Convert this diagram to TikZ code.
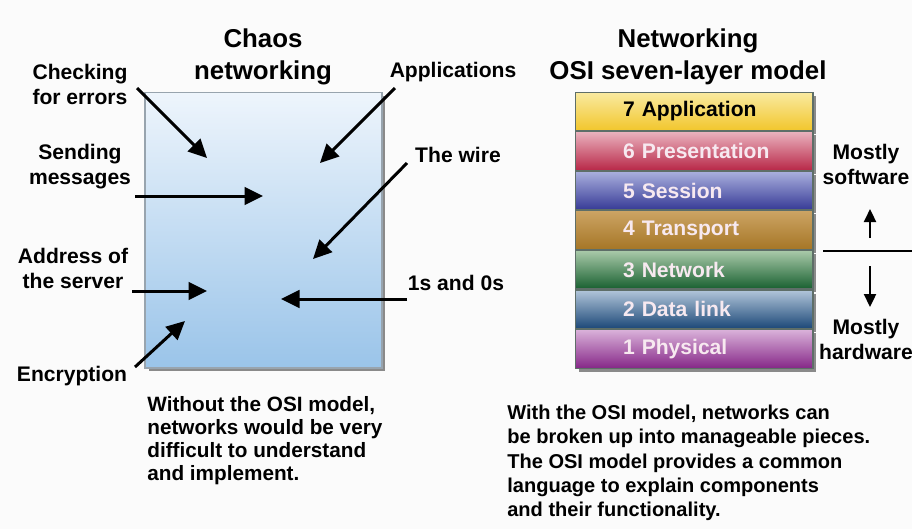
\documentclass[tikz,border=0pt]{standalone}
\usepackage{fontspec}
\setmainfont{Liberation Sans}
\usetikzlibrary{positioning,arrows.meta,shadows}
\definecolor{bgcol}{HTML}{FBFBFB}
\definecolor{boxtop}{HTML}{EEF5FC}
\definecolor{boxbot}{HTML}{9AC4E9}
\definecolor{boxline}{HTML}{98A4AE}
\definecolor{laygrey}{HTML}{5E6E68}
\definecolor{laytext}{HTML}{F7E9F0}
\tikzset{title/.style={font=\bfseries\fontsize{14.7}{18.2}\selectfont,align=center,inner sep=0pt}}
\tikzset{lbl/.style={font=\bfseries\fontsize{12}{14.2}\selectfont,align=center,inner sep=0pt}}
\tikzset{note/.style={font=\bfseries\fontsize{11.8}{13.2}\selectfont,align=left,inner sep=0pt,anchor=north west}}
\tikzset{layer/.style={draw=laygrey,line width=0.6pt,minimum height=0.77cm,text width=4.76cm,inner xsep=0pt,align=left,
  font=\bfseries\fontsize{12}{14}\selectfont,execute at begin node={\hspace*{0.96cm}},
  drop shadow={shadow xshift=0.07cm,shadow yshift=-0.07cm,opacity=0.6,fill=black!75}}}
\tikzset{pointer/.style={-{Triangle[length=3.7mm,width=3.5mm]},line width=1.7pt}}
\tikzset{updown/.style={-{Triangle[length=2.6mm,width=2.4mm]},line width=1.3pt}}

\begin{document}
\begin{tikzpicture}[x=0.02cm,y=-0.02cm]
    \path[use as bounding box,fill=bgcol] (0,0) rectangle (912,529);

    % left half: chaos
    \node[title] (chaos) at (263,57) {Chaos\\networking};
    \node[draw=boxline,line width=0.6pt,top color=boxtop,bottom color=boxbot,minimum width=4.74cm,minimum height=5.52cm,inner sep=0pt,
      drop shadow={shadow xshift=0.07cm,shadow yshift=-0.07cm,opacity=0.6,fill=black!75}] (box) at (263.5,230) {};

    \node[lbl] (check) at (80,84) {Checking\\for errors};
    \node[lbl] (send) at (80,167) {Sending\\messages};
    \node[lbl] (addr) at (73,268) {Address of\\the server};
    \node[lbl] (crypt) at (72,376) {Encryption};
    \node[lbl] (apps) at (453,72) {Applications};
    \node[lbl] (wire) at (458,155) {The wire};
    \node[lbl] (bits) at (456,283) {1s and 0s};

    \coordinate (check0) at (137,88);  \coordinate (check1) at (207,158);
    \coordinate (apps0) at (395,88);   \coordinate (apps1) at (320,163);
    \coordinate (send0) at (135,196);  \coordinate (send1) at (263,196);
    \coordinate (wire0) at (407,163);  \coordinate (wire1) at (313,259);
    \coordinate (addr0) at (132,291);  \coordinate (addr1) at (207,291);
    \coordinate (bits0) at (407,299);  \coordinate (bits1) at (281,299);
    \coordinate (crypt0) at (135,367); \coordinate (crypt1) at (185,321);

    \draw[pointer] (check0) -- (check1);
    \draw[pointer] (apps0) -- (apps1);
    \draw[pointer] (send0) -- (send1);
    \draw[pointer] (wire0) -- (wire1);
    \draw[pointer] (addr0) -- (addr1);
    \draw[pointer] (bits0) -- (bits1);
    \draw[pointer] (crypt0) -- (crypt1);

    \node[note] (without) at (147,396) {Without the OSI model,\\networks would be very\\difficult to understand\\and implement.};

    % right half: OSI stack
    \node[title] (osi) at (688,57) {Networking\\OSI seven-layer model};
    \node[layer,top color={rgb,255:red,249;green,234;blue,160},bottom color={rgb,255:red,242;green,198;blue,44},text=black] (l7) at (694,111.5) {7 Application};
    \node[layer,top color={rgb,255:red,234;green,178;blue,190},bottom color={rgb,255:red,184;green,40;blue,72},text=laytext,below=0pt of l7] (l6) {6 Presentation};
    \node[layer,top color={rgb,255:red,170;green,176;blue,222},bottom color={rgb,255:red,54;green,58;blue,150},text=laytext,below=0pt of l6] (l5) {5 Session};
    \node[layer,top color={rgb,255:red,204;green,164;blue,100},bottom color={rgb,255:red,166;green,118;blue,38},text=laytext,below=0pt of l5] (l4) {4 Transport};
    \node[layer,top color={rgb,255:red,170;green,202;blue,170},bottom color={rgb,255:red,24;green,96;blue,48},text=laytext,below=0pt of l4] (l3) {3 Network};
    \node[layer,top color={rgb,255:red,178;green,198;blue,218},bottom color={rgb,255:red,28;green,72;blue,120},text=laytext,below=0pt of l3] (l2) {2 Data link};
    \node[layer,top color={rgb,255:red,218;green,178;blue,218},bottom color={rgb,255:red,134;green,40;blue,136},text=laytext,below=0pt of l2] (l1) {1 Physical};

    \node[lbl] (soft) at (866,164) {Mostly\\software};
    \node[lbl] (hard) at (866,339) {Mostly\\hardware};
    \coordinate (split0) at (823,251); \coordinate (split1) at (912,251);
    \coordinate (up0) at (870,238);    \coordinate (up1) at (870,209);
    \coordinate (down0) at (870,266);  \coordinate (down1) at (870,307);
    \draw[line width=1.2pt] (split0) -- (split1);
    \draw[updown] (up0) -- (up1);
    \draw[updown] (down0) -- (down1);

    \node[note,font=\bfseries\fontsize{11.4}{13.7}\selectfont] (with) at (507,405) {With the OSI model, networks can\\be broken up into manageable pieces.\\The OSI model provides a common\\language to explain components\\and their functionality.};
\end{tikzpicture}
\end{document}
